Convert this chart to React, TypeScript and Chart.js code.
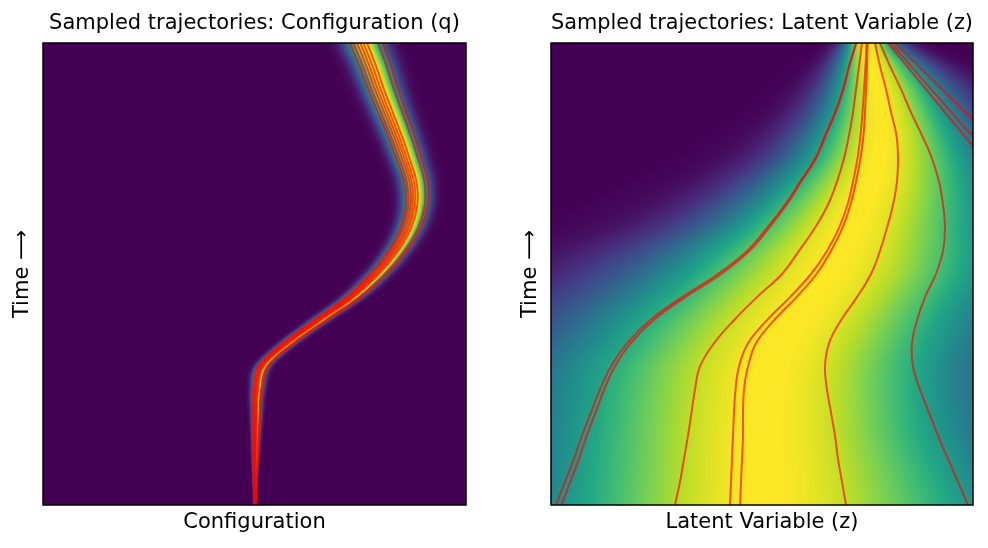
import React, { useEffect, useRef } from 'react';
import { Chart, registerables } from 'chart.js';
Chart.register(...registerables);

// ---------- data ----------
const TIME = [0, 0.05, 0.1, 0.15, 0.2, 0.25, 0.3, 0.35, 0.4, 0.45, 0.5, 0.55, 0.6, 0.65, 0.7, 0.75, 0.8, 0.85, 0.9, 0.95, 1];

// Configuration panel: density band (centre / spread per time step)
const Q_CENTER = [212, 212, 212.5, 213, 213.5, 214.5, 220, 245, 277, 310, 335, 354, 367, 373, 372, 365, 357, 348, 339, 331, 322];
const Q_SPREAD = [0.8, 1.3, 1.9, 2.5, 3.1, 3.8, 4.4, 5, 5.6, 6.2, 6.8, 7.4, 8, 8.6, 9.2, 9.8, 10.4, 11, 11.6, 12.2, 12.8];

// Configuration panel: sampled trajectories
const Q_TRAJ_1 = [211.1, 210.5, 210.3, 210.1, 209.9, 210.1, 214.9, 239.2, 270.5, 302.7, 327, 345.3, 357.6, 362.8, 361.1, 353.4, 344.7, 334.9, 325.2, 316.5, 306.8];
const Q_TRAJ_2 = [211.3, 210.9, 210.8, 210.8, 210.7, 211.2, 216.1, 240.6, 272, 304.5, 328.9, 347.4, 359.8, 365.3, 363.7, 356.2, 347.6, 338.1, 328.5, 320, 310.4];
const Q_TRAJ_3 = [211.5, 211.2, 211.4, 211.5, 211.6, 212.2, 217.4, 242, 273.6, 306.2, 330.9, 349.5, 362.1, 367.7, 366.4, 359, 350.6, 341.2, 331.9, 323.5, 314.1];
const Q_TRAJ_4 = [211.7, 211.5, 211.8, 212.1, 212.4, 213.1, 218.4, 243.2, 275, 307.7, 332.5, 351.3, 364.1, 369.8, 368.6, 361.4, 353.2, 343.9, 334.7, 326.5, 317.3];
const Q_TRAJ_5 = [211.9, 211.8, 212.3, 212.7, 213.1, 214, 219.5, 244.4, 276.3, 309.2, 334.2, 353.1, 366, 371.9, 370.9, 363.8, 355.7, 346.6, 337.6, 329.5, 320.4];
const Q_TRAJ_6 = [212.1, 212.2, 212.8, 213.4, 214, 215.1, 220.7, 245.8, 277.9, 311, 336.1, 355.2, 368.3, 374.4, 373.5, 366.6, 358.7, 349.8, 340.9, 333, 324.1];
const Q_TRAJ_7 = [212.8, 213.3, 214.4, 215.5, 216.6, 218.3, 224.4, 250, 282.6, 316.3, 341.9, 361.5, 375.1, 381.8, 381.4, 375, 367.6, 359.3, 350.9, 343.5, 335.1];
const Q_TRAJ_8 = [213, 213.7, 215.1, 216.4, 217.8, 219.6, 226, 251.8, 284.7, 318.5, 344.4, 364.2, 378.1, 384.9, 384.8, 378.6, 371.5, 363.3, 355.2, 348, 339.9];

// Latent panel: density (centre / left spread / right spread per time step)
const Z_CENTER = [214, 215, 215, 215, 216, 218, 222, 232, 245, 261, 277, 289, 300, 310, 320, 327, 329, 328, 325, 320, 315];
const Z_SPREAD_L = [175, 173, 171, 169, 167, 165, 162, 156, 150, 142, 132, 118, 100, 86, 74, 62, 52, 42, 33, 24, 15];
const Z_SPREAD_R = [180, 172, 163, 155, 150, 146, 143, 140, 137, 134, 130, 122, 110, 100, 88, 76, 66, 57, 48, 36, 22];

// Latent panel: sampled trajectories
const Z_TRAJ_A = [5, 14, 23, 31, 40, 49, 60, 76, 99, 131, 167, 196, 216, 234, 249, 264, 274, 284, 292, 298, 305];
const Z_TRAJ_A2 = [10.5, 19.3, 28, 35.8, 44.5, 53.2, 63.8, 79.5, 102.4, 134.3, 170.2, 198.5, 218, 235.5, 250.2, 265, 274.8, 284.6, 292.5, 298.4, 305.3];
const Z_TRAJ_B = [124, 129, 133, 137, 140.5, 144, 149, 163, 183, 206, 231, 248, 264, 277, 286, 293, 298, 302, 305, 308, 311];
const Z_TRAJ_C = [179, 180, 181, 182, 183, 184.5, 188, 197, 216, 239, 260, 276, 288, 296.5, 302, 306.5, 309.5, 311.5, 313, 314.5, 315.5];
const Z_TRAJ_C2 = [189, 190, 191, 192, 192, 193, 197, 205, 223, 245.5, 265.5, 280, 291.5, 299.5, 305, 309.5, 312.5, 314, 315, 316, 316.5];
const Z_TRAJ_D = [295, 291, 287, 284, 280, 276, 274, 278, 290, 306, 320, 329, 336, 342, 346, 347, 345.5, 340, 335, 329, 324];
const Z_TRAJ_E = [417, 407, 397, 387, 378, 369, 362, 361, 366, 374, 385, 392, 394, 392, 388, 381, 371, 360, 350, 339, 329];
const Z_TRAJ_F1 = [null, null, null, null, null, null, null, null, null, null, null, null, null, null, null, 461, 437, 414, 390.7, 367.4, 344];
const Z_TRAJ_F2 = [null, null, null, null, null, null, null, null, null, null, null, null, null, null, 461, 440.5, 420.5, 400.5, 380, 360, 340];
const Z_TRAJ_F3 = [null, null, null, null, null, null, null, null, null, null, null, null, null, null, 450.5, 431.5, 413, 394, 375, 356, 337];

// viridis colour stops
const VIRIDIS = [
  [68, 1, 84], [72, 35, 116], [64, 67, 135], [52, 94, 141], [41, 120, 142], [32, 144, 140],
  [34, 167, 132], [68, 190, 112], [121, 209, 81], [189, 222, 38], [253, 231, 37],
];

const FONT = "'DejaVu Sans', 'Liberation Sans', sans-serif";
const LINE_COLOR = 'rgba(255, 0, 0, 0.65)';

// ---------- helpers ----------
function viridis(v: number): number[] {
  const f = Math.min(Math.max(v, 0), 1) * (VIRIDIS.length - 1);
  const i = Math.min(Math.floor(f), VIRIDIS.length - 2);
  const u = f - i;
  const a = VIRIDIS[i], b = VIRIDIS[i + 1];
  return [a[0] + (b[0] - a[0]) * u, a[1] + (b[1] - a[1]) * u, a[2] + (b[2] - a[2]) * u];
}

function smoothAt(arr: number[], t: number): number {
  const n = arr.length - 1;
  const f = Math.min(Math.max(t, 0), 1) * n;
  const i = Math.min(Math.floor(f), n - 1);
  const u = f - i;
  const p0 = arr[Math.max(i - 1, 0)], p1 = arr[i], p2 = arr[i + 1], p3 = arr[Math.min(i + 2, n)];
  const u2 = u * u, u3 = u2 * u;
  return 0.5 * (2 * p1 + (-p0 + p2) * u + (2 * p0 - 5 * p1 + 4 * p2 - p3) * u2 + (-p0 + 3 * p1 - 3 * p2 + p3) * u3);
}

type Field = (t: number) => { c: number; sl: number; sr: number };

const qField: Field = (t) => {
  const s = Math.max(smoothAt(Q_SPREAD, t), 0.3);
  return { c: smoothAt(Q_CENTER, t), sl: s, sr: s };
};
const zField: Field = (t) => ({
  c: smoothAt(Z_CENTER, t),
  sl: Math.max(smoothAt(Z_SPREAD_L, t), 1),
  sr: Math.max(smoothAt(Z_SPREAD_R, t), 1),
});

function heatPlugin(field: Field) {
  return {
    id: 'densityField',
    beforeDatasetsDraw(chart: any) {
      const { ctx, chartArea: a, scales } = chart;
      const xs = scales.x, ys = scales.y;
      const w = Math.round(a.right - a.left), h = Math.round(a.bottom - a.top);
      const img = ctx.createImageData(w, h);
      const d = img.data;
      for (let r = 0; r < h; r++) {
        const t = ys.getValueForPixel(a.top + r + 0.5);
        const { c, sl, sr } = field(t);
        for (let col = 0; col < w; col++) {
          const v = xs.getValueForPixel(a.left + col + 0.5);
          const s = v < c ? sl : sr;
          const z = (v - c) / s;
          const [R, G, B] = viridis(Math.exp(-0.5 * z * z));
          const k = (r * w + col) * 4;
          d[k] = R; d[k + 1] = G; d[k + 2] = B; d[k + 3] = 255;
        }
      }
      ctx.putImageData(img, Math.round(a.left), Math.round(a.top));
    },
  };
}

const framePlugin = {
  id: 'frame',
  afterDatasetsDraw(chart: any) {
    const { ctx, chartArea: a } = chart;
    ctx.save();
    ctx.strokeStyle = '#000';
    ctx.lineWidth = 1.5;
    ctx.strokeRect(a.left, a.top, a.right - a.left, a.bottom - a.top);
    ctx.restore();
  },
};

function makeConfig(p: {
  title: string; xLabel: string; xMax: number; yWidth: number; yTitlePad: number; padRight: number;
  traj: (number | null)[][]; field: Field;
}): any {
  const font = { family: FONT, size: 21, weight: 'normal' as const };
  return {
    type: 'line',
    data: {
      datasets: p.traj.map((arr) => ({
        data: arr
          .map((v, i) => (v == null ? null : { x: v, y: TIME[i] }))
          .filter((pt) => pt !== null),
        borderColor: LINE_COLOR,
        borderWidth: 2,
        pointRadius: 0,
        fill: false,
        tension: 0.4,
        clip: 0,
      })),
    },
    options: {
      indexAxis: 'y',
      animation: false,
      responsive: false,
      devicePixelRatio: 1,
      layout: { padding: { right: p.padRight, left: 0, top: 0, bottom: 0 } },
      plugins: {
        legend: { display: false },
        tooltip: { enabled: false },
        title: {
          display: true, text: p.title, color: '#000', font, fullSize: false,
          padding: { top: 11.4, bottom: 6.4 },
        },
      },
      scales: {
        x: {
          type: 'linear', min: 0, max: p.xMax,
          ticks: { display: false }, grid: { display: false }, border: { display: false },
          title: { display: true, text: p.xLabel, color: '#000', font, padding: { top: 0, bottom: 12.4 } },
          afterFit: (s: any) => { s.height = 43; },
        },
        y: {
          type: 'linear', min: 0, max: 1,
          ticks: { display: false }, grid: { display: false }, border: { display: false },
          title: { display: true, text: 'Time \u27F6', color: '#000', font, padding: { top: p.yTitlePad, bottom: 0 } },
          afterFit: (s: any) => { s.width = p.yWidth; },
        },
      },
    },
    plugins: [heatPlugin(p.field), framePlugin],
  };
}

function Panel({ left, config }: { left: number; config: () => any }) {
  const ref = useRef<HTMLCanvasElement>(null);
  useEffect(() => {
    const chart = new Chart(ref.current as HTMLCanvasElement, config());
    return () => chart.destroy();
  }, []);
  return (
    <canvas
      ref={ref}
      width={494}
      height={548}
      style={{ position: 'absolute', left, top: 0, width: 494, height: 548, display: 'block' }}
    />
  );
}

export default function App() {
  return (
    <div style={{ position: 'absolute', left: 0, top: 0, width: 988, height: 548, background: '#fff' }}>
      <Panel
        left={0}
        config={() =>
          makeConfig({
            title: 'Sampled trajectories: Configuration (q)',
            xLabel: 'Configuration',
            xMax: 423,
            yWidth: 43,
            yTitlePad: 10.4,
            padRight: 28,
            traj: [Q_TRAJ_1, Q_TRAJ_2, Q_TRAJ_3, Q_TRAJ_4, Q_TRAJ_5, Q_TRAJ_6, Q_TRAJ_7, Q_TRAJ_8],
            field: qField,
          })
        }
      />
      <Panel
        left={494}
        config={() =>
          makeConfig({
            title: 'Sampled trajectories: Latent Variable (z)',
            xLabel: 'Latent Variable (z)',
            xMax: 422,
            yWidth: 57,
            yTitlePad: 24.4,
            padRight: 15,
            traj: [Z_TRAJ_A, Z_TRAJ_A2, Z_TRAJ_B, Z_TRAJ_C, Z_TRAJ_C2, Z_TRAJ_D, Z_TRAJ_E, Z_TRAJ_F1, Z_TRAJ_F2, Z_TRAJ_F3],
            field: zField,
          })
        }
      />
    </div>
  );
}
